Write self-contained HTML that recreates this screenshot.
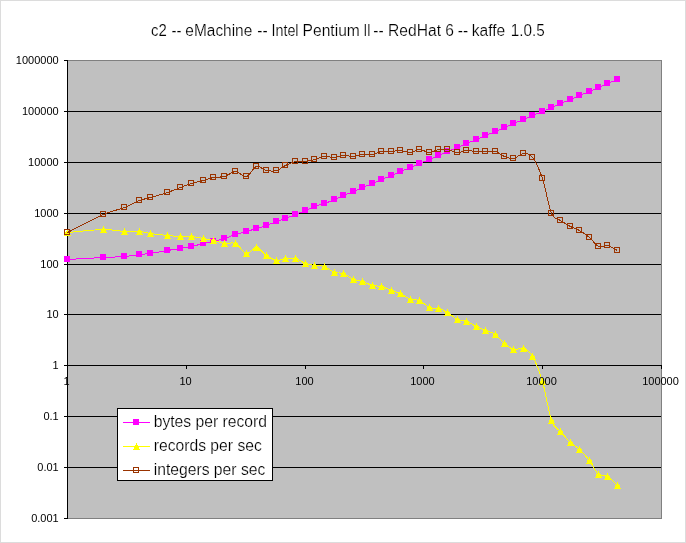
<!DOCTYPE html>
<html><head><meta charset="utf-8"><title>chart</title>
<style>
html,body{margin:0;padding:0;background:#fff;}
body{width:686px;height:543px;overflow:hidden;position:relative;font-family:"Liberation Sans",sans-serif;}
</style></head><body>
<svg width="686" height="543" viewBox="0 0 686 543" style="position:absolute;left:0;top:0;will-change:transform">
<rect x="0" y="0" width="686" height="543" fill="#ffffff"/>
<rect x="0.5" y="0.5" width="685" height="542" fill="none" stroke="#dcdcdc" stroke-width="1" shape-rendering="crispEdges"/>
<rect x="67" y="60" width="595" height="459" fill="#c0c0c0" shape-rendering="crispEdges"/>
<g shape-rendering="crispEdges" stroke-width="1" fill="none">
<path d="M67 60.5 H662" stroke="#808080"/>
<path d="M661.5 60 V519" stroke="#808080"/>
<path d="M67 518.5 H662" stroke="#808080"/>
<path d="M64 60.5 H68" stroke="#000"/>
<path d="M64 111.5 H661" stroke="#000"/>
<path d="M64 162.5 H661" stroke="#000"/>
<path d="M64 213.5 H661" stroke="#000"/>
<path d="M64 264.5 H661" stroke="#000"/>
<path d="M64 314.5 H661" stroke="#000"/>
<path d="M64 365.5 H661" stroke="#000"/>
<path d="M64 416.5 H661" stroke="#000"/>
<path d="M64 467.5 H661" stroke="#000"/>
<path d="M64 518.5 H68" stroke="#000"/>
<path d="M67.5 60 V519" stroke="#000"/>
<path d="M67.5 365 V369" stroke="#000"/>
<path d="M186.5 365 V369" stroke="#000"/>
<path d="M305.5 365 V369" stroke="#000"/>
<path d="M423.5 365 V369" stroke="#000"/>
<path d="M542.5 365 V369" stroke="#000"/>
<path d="M661.5 365 V369" stroke="#000"/>
</g>
<path d="M67.50 259.50 C73.50 259.17 94.00 258.00 103.50 257.50 C113.00 257.00 118.50 257.00 124.50 256.50 C130.50 256.00 135.17 255.00 139.50 254.50 C143.83 254.00 145.83 254.17 150.50 253.50 C155.17 252.83 162.50 251.33 167.50 250.50 C172.50 249.67 176.50 249.17 180.50 248.50 C184.50 247.83 187.67 247.33 191.50 246.50 C195.33 245.67 199.83 244.33 203.50 243.50 C207.17 242.67 210.00 242.33 213.50 241.50 C217.00 240.67 220.83 239.67 224.50 238.50 C228.17 237.33 231.83 235.67 235.50 234.50 C239.17 233.33 243.00 232.50 246.50 231.50 C250.00 230.50 253.17 229.50 256.50 228.50 C259.83 227.50 263.17 226.67 266.50 225.50 C269.83 224.33 273.33 222.67 276.50 221.50 C279.67 220.33 282.33 219.67 285.50 218.50 C288.67 217.33 292.17 215.83 295.50 214.50 C298.83 213.17 302.33 211.83 305.50 210.50 C308.67 209.17 311.33 207.67 314.50 206.50 C317.67 205.33 321.17 204.67 324.50 203.50 C327.83 202.33 331.33 200.83 334.50 199.50 C337.67 198.17 340.33 196.83 343.50 195.50 C346.67 194.17 350.33 192.83 353.50 191.50 C356.67 190.17 359.33 188.83 362.50 187.50 C365.67 186.17 369.33 184.83 372.50 183.50 C375.67 182.17 378.33 180.83 381.50 179.50 C384.67 178.17 388.33 176.83 391.50 175.50 C394.67 174.17 397.33 172.83 400.50 171.50 C403.67 170.17 407.33 168.83 410.50 167.50 C413.67 166.17 416.33 164.83 419.50 163.50 C422.67 162.17 426.33 160.83 429.50 159.50 C432.67 158.17 435.50 156.83 438.50 155.50 C441.50 154.17 444.33 152.83 447.50 151.50 C450.67 150.17 454.33 148.83 457.50 147.50 C460.67 146.17 463.33 144.83 466.50 143.50 C469.67 142.17 473.33 140.83 476.50 139.50 C479.67 138.17 482.33 136.83 485.50 135.50 C488.67 134.17 492.33 132.83 495.50 131.50 C498.67 130.17 501.50 128.83 504.50 127.50 C507.50 126.17 510.33 124.83 513.50 123.50 C516.67 122.17 520.33 120.83 523.50 119.50 C526.67 118.17 529.33 116.83 532.50 115.50 C535.67 114.17 539.33 112.83 542.50 111.50 C545.67 110.17 548.50 108.83 551.50 107.50 C554.50 106.17 557.33 104.83 560.50 103.50 C563.67 102.17 567.33 100.83 570.50 99.50 C573.67 98.17 576.33 96.83 579.50 95.50 C582.67 94.17 586.33 92.83 589.50 91.50 C592.67 90.17 595.50 88.83 598.50 87.50 C601.50 86.17 604.33 84.83 607.50 83.50 C610.67 82.17 615.83 80.17 617.50 79.50" fill="none" stroke="#ff00ff" stroke-width="1" shape-rendering="crispEdges"/>
<rect x="64" y="256" width="6" height="6" fill="#ff00ff" shape-rendering="crispEdges"/>
<rect x="100" y="254" width="6" height="6" fill="#ff00ff" shape-rendering="crispEdges"/>
<rect x="121" y="253" width="6" height="6" fill="#ff00ff" shape-rendering="crispEdges"/>
<rect x="136" y="251" width="6" height="6" fill="#ff00ff" shape-rendering="crispEdges"/>
<rect x="147" y="250" width="6" height="6" fill="#ff00ff" shape-rendering="crispEdges"/>
<rect x="164" y="247" width="6" height="6" fill="#ff00ff" shape-rendering="crispEdges"/>
<rect x="177" y="245" width="6" height="6" fill="#ff00ff" shape-rendering="crispEdges"/>
<rect x="188" y="243" width="6" height="6" fill="#ff00ff" shape-rendering="crispEdges"/>
<rect x="200" y="240" width="6" height="6" fill="#ff00ff" shape-rendering="crispEdges"/>
<rect x="210" y="238" width="6" height="6" fill="#ff00ff" shape-rendering="crispEdges"/>
<rect x="221" y="235" width="6" height="6" fill="#ff00ff" shape-rendering="crispEdges"/>
<rect x="232" y="231" width="6" height="6" fill="#ff00ff" shape-rendering="crispEdges"/>
<rect x="243" y="228" width="6" height="6" fill="#ff00ff" shape-rendering="crispEdges"/>
<rect x="253" y="225" width="6" height="6" fill="#ff00ff" shape-rendering="crispEdges"/>
<rect x="263" y="222" width="6" height="6" fill="#ff00ff" shape-rendering="crispEdges"/>
<rect x="273" y="218" width="6" height="6" fill="#ff00ff" shape-rendering="crispEdges"/>
<rect x="282" y="215" width="6" height="6" fill="#ff00ff" shape-rendering="crispEdges"/>
<rect x="292" y="211" width="6" height="6" fill="#ff00ff" shape-rendering="crispEdges"/>
<rect x="302" y="207" width="6" height="6" fill="#ff00ff" shape-rendering="crispEdges"/>
<rect x="311" y="203" width="6" height="6" fill="#ff00ff" shape-rendering="crispEdges"/>
<rect x="321" y="200" width="6" height="6" fill="#ff00ff" shape-rendering="crispEdges"/>
<rect x="331" y="196" width="6" height="6" fill="#ff00ff" shape-rendering="crispEdges"/>
<rect x="340" y="192" width="6" height="6" fill="#ff00ff" shape-rendering="crispEdges"/>
<rect x="350" y="188" width="6" height="6" fill="#ff00ff" shape-rendering="crispEdges"/>
<rect x="359" y="184" width="6" height="6" fill="#ff00ff" shape-rendering="crispEdges"/>
<rect x="369" y="180" width="6" height="6" fill="#ff00ff" shape-rendering="crispEdges"/>
<rect x="378" y="176" width="6" height="6" fill="#ff00ff" shape-rendering="crispEdges"/>
<rect x="388" y="172" width="6" height="6" fill="#ff00ff" shape-rendering="crispEdges"/>
<rect x="397" y="168" width="6" height="6" fill="#ff00ff" shape-rendering="crispEdges"/>
<rect x="407" y="164" width="6" height="6" fill="#ff00ff" shape-rendering="crispEdges"/>
<rect x="416" y="160" width="6" height="6" fill="#ff00ff" shape-rendering="crispEdges"/>
<rect x="426" y="156" width="6" height="6" fill="#ff00ff" shape-rendering="crispEdges"/>
<rect x="435" y="152" width="6" height="6" fill="#ff00ff" shape-rendering="crispEdges"/>
<rect x="444" y="148" width="6" height="6" fill="#ff00ff" shape-rendering="crispEdges"/>
<rect x="454" y="144" width="6" height="6" fill="#ff00ff" shape-rendering="crispEdges"/>
<rect x="463" y="140" width="6" height="6" fill="#ff00ff" shape-rendering="crispEdges"/>
<rect x="473" y="136" width="6" height="6" fill="#ff00ff" shape-rendering="crispEdges"/>
<rect x="482" y="132" width="6" height="6" fill="#ff00ff" shape-rendering="crispEdges"/>
<rect x="492" y="128" width="6" height="6" fill="#ff00ff" shape-rendering="crispEdges"/>
<rect x="501" y="124" width="6" height="6" fill="#ff00ff" shape-rendering="crispEdges"/>
<rect x="510" y="120" width="6" height="6" fill="#ff00ff" shape-rendering="crispEdges"/>
<rect x="520" y="116" width="6" height="6" fill="#ff00ff" shape-rendering="crispEdges"/>
<rect x="529" y="112" width="6" height="6" fill="#ff00ff" shape-rendering="crispEdges"/>
<rect x="539" y="108" width="6" height="6" fill="#ff00ff" shape-rendering="crispEdges"/>
<rect x="548" y="104" width="6" height="6" fill="#ff00ff" shape-rendering="crispEdges"/>
<rect x="557" y="100" width="6" height="6" fill="#ff00ff" shape-rendering="crispEdges"/>
<rect x="567" y="96" width="6" height="6" fill="#ff00ff" shape-rendering="crispEdges"/>
<rect x="576" y="92" width="6" height="6" fill="#ff00ff" shape-rendering="crispEdges"/>
<rect x="586" y="88" width="6" height="6" fill="#ff00ff" shape-rendering="crispEdges"/>
<rect x="595" y="84" width="6" height="6" fill="#ff00ff" shape-rendering="crispEdges"/>
<rect x="604" y="80" width="6" height="6" fill="#ff00ff" shape-rendering="crispEdges"/>
<rect x="614" y="76" width="6" height="6" fill="#ff00ff" shape-rendering="crispEdges"/>
<path d="M67.50 232.50 C73.50 232.00 94.00 229.67 103.50 229.50 C113.00 229.33 118.50 231.17 124.50 231.50 C130.50 231.83 135.17 231.17 139.50 231.50 C143.83 231.83 145.83 232.83 150.50 233.50 C155.17 234.17 162.50 235.00 167.50 235.50 C172.50 236.00 176.50 236.33 180.50 236.50 C184.50 236.67 187.67 236.17 191.50 236.50 C195.33 236.83 199.83 237.83 203.50 238.50 C207.17 239.17 210.00 239.67 213.50 240.50 C217.00 241.33 220.83 243.00 224.50 243.50 C228.17 244.00 231.83 241.83 235.50 243.50 C239.17 245.17 243.00 252.83 246.50 253.50 C250.00 254.17 253.17 247.17 256.50 247.50 C259.83 247.83 263.17 253.33 266.50 255.50 C269.83 257.67 273.33 260.00 276.50 260.50 C279.67 261.00 282.33 258.83 285.50 258.50 C288.67 258.17 292.17 257.67 295.50 258.50 C298.83 259.33 302.33 262.33 305.50 263.50 C308.67 264.67 311.33 265.00 314.50 265.50 C317.67 266.00 321.17 265.33 324.50 266.50 C327.83 267.67 331.33 271.33 334.50 272.50 C337.67 273.67 340.33 272.33 343.50 273.50 C346.67 274.67 350.33 278.17 353.50 279.50 C356.67 280.83 359.33 280.50 362.50 281.50 C365.67 282.50 369.33 284.67 372.50 285.50 C375.67 286.33 378.33 285.67 381.50 286.50 C384.67 287.33 388.33 289.33 391.50 290.50 C394.67 291.67 397.33 292.00 400.50 293.50 C403.67 295.00 407.33 298.33 410.50 299.50 C413.67 300.67 416.33 299.17 419.50 300.50 C422.67 301.83 426.33 306.17 429.50 307.50 C432.67 308.83 435.50 307.67 438.50 308.50 C441.50 309.33 444.33 310.67 447.50 312.50 C450.67 314.33 454.33 318.00 457.50 319.50 C460.67 321.00 463.33 320.33 466.50 321.50 C469.67 322.67 473.33 325.00 476.50 326.50 C479.67 328.00 482.33 329.17 485.50 330.50 C488.67 331.83 492.33 332.33 495.50 334.50 C498.67 336.67 501.50 341.00 504.50 343.50 C507.50 346.00 510.33 348.67 513.50 349.50 C516.67 350.33 520.33 347.33 523.50 348.50 C526.67 349.67 529.33 351.00 532.50 356.50 C535.67 362.00 539.33 370.83 542.50 381.50 C545.67 392.17 548.50 412.17 551.50 420.50 C554.50 428.83 557.33 427.83 560.50 431.50 C563.67 435.17 567.33 439.50 570.50 442.50 C573.67 445.50 576.33 446.50 579.50 449.50 C582.67 452.50 586.33 456.33 589.50 460.50 C592.67 464.67 595.50 471.83 598.50 474.50 C601.50 477.17 604.33 474.67 607.50 476.50 C610.67 478.33 615.83 484.00 617.50 485.50" fill="none" stroke="#ffff00" stroke-width="1" shape-rendering="crispEdges"/>
<path d="M67 229h1v2h1v1h1v3h1v1h-7v-1h1v-3h1v-1h1z" fill="#ffff00" shape-rendering="crispEdges"/>
<path d="M103 226h1v2h1v1h1v3h1v1h-7v-1h1v-3h1v-1h1z" fill="#ffff00" shape-rendering="crispEdges"/>
<path d="M124 228h1v2h1v1h1v3h1v1h-7v-1h1v-3h1v-1h1z" fill="#ffff00" shape-rendering="crispEdges"/>
<path d="M139 228h1v2h1v1h1v3h1v1h-7v-1h1v-3h1v-1h1z" fill="#ffff00" shape-rendering="crispEdges"/>
<path d="M150 230h1v2h1v1h1v3h1v1h-7v-1h1v-3h1v-1h1z" fill="#ffff00" shape-rendering="crispEdges"/>
<path d="M167 232h1v2h1v1h1v3h1v1h-7v-1h1v-3h1v-1h1z" fill="#ffff00" shape-rendering="crispEdges"/>
<path d="M180 233h1v2h1v1h1v3h1v1h-7v-1h1v-3h1v-1h1z" fill="#ffff00" shape-rendering="crispEdges"/>
<path d="M191 233h1v2h1v1h1v3h1v1h-7v-1h1v-3h1v-1h1z" fill="#ffff00" shape-rendering="crispEdges"/>
<path d="M203 235h1v2h1v1h1v3h1v1h-7v-1h1v-3h1v-1h1z" fill="#ffff00" shape-rendering="crispEdges"/>
<path d="M213 237h1v2h1v1h1v3h1v1h-7v-1h1v-3h1v-1h1z" fill="#ffff00" shape-rendering="crispEdges"/>
<path d="M224 240h1v2h1v1h1v3h1v1h-7v-1h1v-3h1v-1h1z" fill="#ffff00" shape-rendering="crispEdges"/>
<path d="M235 240h1v2h1v1h1v3h1v1h-7v-1h1v-3h1v-1h1z" fill="#ffff00" shape-rendering="crispEdges"/>
<path d="M246 250h1v2h1v1h1v3h1v1h-7v-1h1v-3h1v-1h1z" fill="#ffff00" shape-rendering="crispEdges"/>
<path d="M256 244h1v2h1v1h1v3h1v1h-7v-1h1v-3h1v-1h1z" fill="#ffff00" shape-rendering="crispEdges"/>
<path d="M266 252h1v2h1v1h1v3h1v1h-7v-1h1v-3h1v-1h1z" fill="#ffff00" shape-rendering="crispEdges"/>
<path d="M276 257h1v2h1v1h1v3h1v1h-7v-1h1v-3h1v-1h1z" fill="#ffff00" shape-rendering="crispEdges"/>
<path d="M285 255h1v2h1v1h1v3h1v1h-7v-1h1v-3h1v-1h1z" fill="#ffff00" shape-rendering="crispEdges"/>
<path d="M295 255h1v2h1v1h1v3h1v1h-7v-1h1v-3h1v-1h1z" fill="#ffff00" shape-rendering="crispEdges"/>
<path d="M305 260h1v2h1v1h1v3h1v1h-7v-1h1v-3h1v-1h1z" fill="#ffff00" shape-rendering="crispEdges"/>
<path d="M314 262h1v2h1v1h1v3h1v1h-7v-1h1v-3h1v-1h1z" fill="#ffff00" shape-rendering="crispEdges"/>
<path d="M324 263h1v2h1v1h1v3h1v1h-7v-1h1v-3h1v-1h1z" fill="#ffff00" shape-rendering="crispEdges"/>
<path d="M334 269h1v2h1v1h1v3h1v1h-7v-1h1v-3h1v-1h1z" fill="#ffff00" shape-rendering="crispEdges"/>
<path d="M343 270h1v2h1v1h1v3h1v1h-7v-1h1v-3h1v-1h1z" fill="#ffff00" shape-rendering="crispEdges"/>
<path d="M353 276h1v2h1v1h1v3h1v1h-7v-1h1v-3h1v-1h1z" fill="#ffff00" shape-rendering="crispEdges"/>
<path d="M362 278h1v2h1v1h1v3h1v1h-7v-1h1v-3h1v-1h1z" fill="#ffff00" shape-rendering="crispEdges"/>
<path d="M372 282h1v2h1v1h1v3h1v1h-7v-1h1v-3h1v-1h1z" fill="#ffff00" shape-rendering="crispEdges"/>
<path d="M381 283h1v2h1v1h1v3h1v1h-7v-1h1v-3h1v-1h1z" fill="#ffff00" shape-rendering="crispEdges"/>
<path d="M391 287h1v2h1v1h1v3h1v1h-7v-1h1v-3h1v-1h1z" fill="#ffff00" shape-rendering="crispEdges"/>
<path d="M400 290h1v2h1v1h1v3h1v1h-7v-1h1v-3h1v-1h1z" fill="#ffff00" shape-rendering="crispEdges"/>
<path d="M410 296h1v2h1v1h1v3h1v1h-7v-1h1v-3h1v-1h1z" fill="#ffff00" shape-rendering="crispEdges"/>
<path d="M419 297h1v2h1v1h1v3h1v1h-7v-1h1v-3h1v-1h1z" fill="#ffff00" shape-rendering="crispEdges"/>
<path d="M429 304h1v2h1v1h1v3h1v1h-7v-1h1v-3h1v-1h1z" fill="#ffff00" shape-rendering="crispEdges"/>
<path d="M438 305h1v2h1v1h1v3h1v1h-7v-1h1v-3h1v-1h1z" fill="#ffff00" shape-rendering="crispEdges"/>
<path d="M447 309h1v2h1v1h1v3h1v1h-7v-1h1v-3h1v-1h1z" fill="#ffff00" shape-rendering="crispEdges"/>
<path d="M457 316h1v2h1v1h1v3h1v1h-7v-1h1v-3h1v-1h1z" fill="#ffff00" shape-rendering="crispEdges"/>
<path d="M466 318h1v2h1v1h1v3h1v1h-7v-1h1v-3h1v-1h1z" fill="#ffff00" shape-rendering="crispEdges"/>
<path d="M476 323h1v2h1v1h1v3h1v1h-7v-1h1v-3h1v-1h1z" fill="#ffff00" shape-rendering="crispEdges"/>
<path d="M485 327h1v2h1v1h1v3h1v1h-7v-1h1v-3h1v-1h1z" fill="#ffff00" shape-rendering="crispEdges"/>
<path d="M495 331h1v2h1v1h1v3h1v1h-7v-1h1v-3h1v-1h1z" fill="#ffff00" shape-rendering="crispEdges"/>
<path d="M504 340h1v2h1v1h1v3h1v1h-7v-1h1v-3h1v-1h1z" fill="#ffff00" shape-rendering="crispEdges"/>
<path d="M513 346h1v2h1v1h1v3h1v1h-7v-1h1v-3h1v-1h1z" fill="#ffff00" shape-rendering="crispEdges"/>
<path d="M523 345h1v2h1v1h1v3h1v1h-7v-1h1v-3h1v-1h1z" fill="#ffff00" shape-rendering="crispEdges"/>
<path d="M532 353h1v2h1v1h1v3h1v1h-7v-1h1v-3h1v-1h1z" fill="#ffff00" shape-rendering="crispEdges"/>
<path d="M542 378h1v2h1v1h1v3h1v1h-7v-1h1v-3h1v-1h1z" fill="#ffff00" shape-rendering="crispEdges"/>
<path d="M551 417h1v2h1v1h1v3h1v1h-7v-1h1v-3h1v-1h1z" fill="#ffff00" shape-rendering="crispEdges"/>
<path d="M560 428h1v2h1v1h1v3h1v1h-7v-1h1v-3h1v-1h1z" fill="#ffff00" shape-rendering="crispEdges"/>
<path d="M570 439h1v2h1v1h1v3h1v1h-7v-1h1v-3h1v-1h1z" fill="#ffff00" shape-rendering="crispEdges"/>
<path d="M579 446h1v2h1v1h1v3h1v1h-7v-1h1v-3h1v-1h1z" fill="#ffff00" shape-rendering="crispEdges"/>
<path d="M589 457h1v2h1v1h1v3h1v1h-7v-1h1v-3h1v-1h1z" fill="#ffff00" shape-rendering="crispEdges"/>
<path d="M598 471h1v2h1v1h1v3h1v1h-7v-1h1v-3h1v-1h1z" fill="#ffff00" shape-rendering="crispEdges"/>
<path d="M607 473h1v2h1v1h1v3h1v1h-7v-1h1v-3h1v-1h1z" fill="#ffff00" shape-rendering="crispEdges"/>
<path d="M617 482h1v2h1v1h1v3h1v1h-7v-1h1v-3h1v-1h1z" fill="#ffff00" shape-rendering="crispEdges"/>
<path d="M67.50 232.50 C73.50 229.50 94.00 218.67 103.50 214.50 C113.00 210.33 118.50 209.83 124.50 207.50 C130.50 205.17 135.17 202.17 139.50 200.50 C143.83 198.83 145.83 198.83 150.50 197.50 C155.17 196.17 162.50 194.17 167.50 192.50 C172.50 190.83 176.50 189.00 180.50 187.50 C184.50 186.00 187.67 184.67 191.50 183.50 C195.33 182.33 199.83 181.50 203.50 180.50 C207.17 179.50 210.00 178.17 213.50 177.50 C217.00 176.83 220.83 177.50 224.50 176.50 C228.17 175.50 231.83 171.50 235.50 171.50 C239.17 171.50 243.00 177.33 246.50 176.50 C250.00 175.67 253.17 167.50 256.50 166.50 C259.83 165.50 263.17 169.83 266.50 170.50 C269.83 171.17 273.33 171.33 276.50 170.50 C279.67 169.67 282.33 167.00 285.50 165.50 C288.67 164.00 292.17 162.17 295.50 161.50 C298.83 160.83 302.33 161.83 305.50 161.50 C308.67 161.17 311.33 160.33 314.50 159.50 C317.67 158.67 321.17 156.83 324.50 156.50 C327.83 156.17 331.33 157.67 334.50 157.50 C337.67 157.33 340.33 155.67 343.50 155.50 C346.67 155.33 350.33 156.67 353.50 156.50 C356.67 156.33 359.33 154.83 362.50 154.50 C365.67 154.17 369.33 155.00 372.50 154.50 C375.67 154.00 378.33 152.00 381.50 151.50 C384.67 151.00 388.33 151.67 391.50 151.50 C394.67 151.33 397.33 150.33 400.50 150.50 C403.67 150.67 407.33 152.67 410.50 152.50 C413.67 152.33 416.33 149.50 419.50 149.50 C422.67 149.50 426.33 152.50 429.50 152.50 C432.67 152.50 435.50 150.00 438.50 149.50 C441.50 149.00 444.33 149.00 447.50 149.50 C450.67 150.00 454.33 152.33 457.50 152.50 C460.67 152.67 463.33 150.67 466.50 150.50 C469.67 150.33 473.33 151.33 476.50 151.50 C479.67 151.67 482.33 151.50 485.50 151.50 C488.67 151.50 492.33 150.67 495.50 151.50 C498.67 152.33 501.50 155.33 504.50 156.50 C507.50 157.67 510.33 159.00 513.50 158.50 C516.67 158.00 520.33 153.67 523.50 153.50 C526.67 153.33 529.33 153.33 532.50 157.50 C535.67 161.67 539.33 169.17 542.50 178.50 C545.67 187.83 548.50 206.50 551.50 213.50 C554.50 220.50 557.33 218.33 560.50 220.50 C563.67 222.67 567.33 224.83 570.50 226.50 C573.67 228.17 576.33 228.67 579.50 230.50 C582.67 232.33 586.33 234.83 589.50 237.50 C592.67 240.17 595.50 245.17 598.50 246.50 C601.50 247.83 604.33 244.83 607.50 245.50 C610.67 246.17 615.83 249.67 617.50 250.50" fill="none" stroke="#993300" stroke-width="1" shape-rendering="crispEdges"/>
<rect x="64.5" y="229.5" width="5" height="5" fill="none" stroke="#993300" stroke-width="1" shape-rendering="crispEdges"/>
<rect x="100.5" y="211.5" width="5" height="5" fill="none" stroke="#993300" stroke-width="1" shape-rendering="crispEdges"/>
<rect x="121.5" y="204.5" width="5" height="5" fill="none" stroke="#993300" stroke-width="1" shape-rendering="crispEdges"/>
<rect x="136.5" y="197.5" width="5" height="5" fill="none" stroke="#993300" stroke-width="1" shape-rendering="crispEdges"/>
<rect x="147.5" y="194.5" width="5" height="5" fill="none" stroke="#993300" stroke-width="1" shape-rendering="crispEdges"/>
<rect x="164.5" y="189.5" width="5" height="5" fill="none" stroke="#993300" stroke-width="1" shape-rendering="crispEdges"/>
<rect x="177.5" y="184.5" width="5" height="5" fill="none" stroke="#993300" stroke-width="1" shape-rendering="crispEdges"/>
<rect x="188.5" y="180.5" width="5" height="5" fill="none" stroke="#993300" stroke-width="1" shape-rendering="crispEdges"/>
<rect x="200.5" y="177.5" width="5" height="5" fill="none" stroke="#993300" stroke-width="1" shape-rendering="crispEdges"/>
<rect x="210.5" y="174.5" width="5" height="5" fill="none" stroke="#993300" stroke-width="1" shape-rendering="crispEdges"/>
<rect x="221.5" y="173.5" width="5" height="5" fill="none" stroke="#993300" stroke-width="1" shape-rendering="crispEdges"/>
<rect x="232.5" y="168.5" width="5" height="5" fill="none" stroke="#993300" stroke-width="1" shape-rendering="crispEdges"/>
<rect x="243.5" y="173.5" width="5" height="5" fill="none" stroke="#993300" stroke-width="1" shape-rendering="crispEdges"/>
<rect x="253.5" y="163.5" width="5" height="5" fill="none" stroke="#993300" stroke-width="1" shape-rendering="crispEdges"/>
<rect x="263.5" y="167.5" width="5" height="5" fill="none" stroke="#993300" stroke-width="1" shape-rendering="crispEdges"/>
<rect x="273.5" y="167.5" width="5" height="5" fill="none" stroke="#993300" stroke-width="1" shape-rendering="crispEdges"/>
<rect x="282.5" y="162.5" width="5" height="5" fill="none" stroke="#993300" stroke-width="1" shape-rendering="crispEdges"/>
<rect x="292.5" y="158.5" width="5" height="5" fill="none" stroke="#993300" stroke-width="1" shape-rendering="crispEdges"/>
<rect x="302.5" y="158.5" width="5" height="5" fill="none" stroke="#993300" stroke-width="1" shape-rendering="crispEdges"/>
<rect x="311.5" y="156.5" width="5" height="5" fill="none" stroke="#993300" stroke-width="1" shape-rendering="crispEdges"/>
<rect x="321.5" y="153.5" width="5" height="5" fill="none" stroke="#993300" stroke-width="1" shape-rendering="crispEdges"/>
<rect x="331.5" y="154.5" width="5" height="5" fill="none" stroke="#993300" stroke-width="1" shape-rendering="crispEdges"/>
<rect x="340.5" y="152.5" width="5" height="5" fill="none" stroke="#993300" stroke-width="1" shape-rendering="crispEdges"/>
<rect x="350.5" y="153.5" width="5" height="5" fill="none" stroke="#993300" stroke-width="1" shape-rendering="crispEdges"/>
<rect x="359.5" y="151.5" width="5" height="5" fill="none" stroke="#993300" stroke-width="1" shape-rendering="crispEdges"/>
<rect x="369.5" y="151.5" width="5" height="5" fill="none" stroke="#993300" stroke-width="1" shape-rendering="crispEdges"/>
<rect x="378.5" y="148.5" width="5" height="5" fill="none" stroke="#993300" stroke-width="1" shape-rendering="crispEdges"/>
<rect x="388.5" y="148.5" width="5" height="5" fill="none" stroke="#993300" stroke-width="1" shape-rendering="crispEdges"/>
<rect x="397.5" y="147.5" width="5" height="5" fill="none" stroke="#993300" stroke-width="1" shape-rendering="crispEdges"/>
<rect x="407.5" y="149.5" width="5" height="5" fill="none" stroke="#993300" stroke-width="1" shape-rendering="crispEdges"/>
<rect x="416.5" y="146.5" width="5" height="5" fill="none" stroke="#993300" stroke-width="1" shape-rendering="crispEdges"/>
<rect x="426.5" y="149.5" width="5" height="5" fill="none" stroke="#993300" stroke-width="1" shape-rendering="crispEdges"/>
<rect x="435.5" y="146.5" width="5" height="5" fill="none" stroke="#993300" stroke-width="1" shape-rendering="crispEdges"/>
<rect x="444.5" y="146.5" width="5" height="5" fill="none" stroke="#993300" stroke-width="1" shape-rendering="crispEdges"/>
<rect x="454.5" y="149.5" width="5" height="5" fill="none" stroke="#993300" stroke-width="1" shape-rendering="crispEdges"/>
<rect x="463.5" y="147.5" width="5" height="5" fill="none" stroke="#993300" stroke-width="1" shape-rendering="crispEdges"/>
<rect x="473.5" y="148.5" width="5" height="5" fill="none" stroke="#993300" stroke-width="1" shape-rendering="crispEdges"/>
<rect x="482.5" y="148.5" width="5" height="5" fill="none" stroke="#993300" stroke-width="1" shape-rendering="crispEdges"/>
<rect x="492.5" y="148.5" width="5" height="5" fill="none" stroke="#993300" stroke-width="1" shape-rendering="crispEdges"/>
<rect x="501.5" y="153.5" width="5" height="5" fill="none" stroke="#993300" stroke-width="1" shape-rendering="crispEdges"/>
<rect x="510.5" y="155.5" width="5" height="5" fill="none" stroke="#993300" stroke-width="1" shape-rendering="crispEdges"/>
<rect x="520.5" y="150.5" width="5" height="5" fill="none" stroke="#993300" stroke-width="1" shape-rendering="crispEdges"/>
<rect x="529.5" y="154.5" width="5" height="5" fill="none" stroke="#993300" stroke-width="1" shape-rendering="crispEdges"/>
<rect x="539.5" y="175.5" width="5" height="5" fill="none" stroke="#993300" stroke-width="1" shape-rendering="crispEdges"/>
<rect x="548.5" y="210.5" width="5" height="5" fill="none" stroke="#993300" stroke-width="1" shape-rendering="crispEdges"/>
<rect x="557.5" y="217.5" width="5" height="5" fill="none" stroke="#993300" stroke-width="1" shape-rendering="crispEdges"/>
<rect x="567.5" y="223.5" width="5" height="5" fill="none" stroke="#993300" stroke-width="1" shape-rendering="crispEdges"/>
<rect x="576.5" y="227.5" width="5" height="5" fill="none" stroke="#993300" stroke-width="1" shape-rendering="crispEdges"/>
<rect x="586.5" y="234.5" width="5" height="5" fill="none" stroke="#993300" stroke-width="1" shape-rendering="crispEdges"/>
<rect x="595.5" y="243.5" width="5" height="5" fill="none" stroke="#993300" stroke-width="1" shape-rendering="crispEdges"/>
<rect x="604.5" y="242.5" width="5" height="5" fill="none" stroke="#993300" stroke-width="1" shape-rendering="crispEdges"/>
<rect x="614.5" y="247.5" width="5" height="5" fill="none" stroke="#993300" stroke-width="1" shape-rendering="crispEdges"/>
<rect x="117.5" y="408.5" width="155" height="72" fill="#fff" stroke="#000" stroke-width="1" shape-rendering="crispEdges"/>
<path d="M123 422.5 H150" stroke="#ff00ff" stroke-width="1" shape-rendering="crispEdges"/>
<rect x="133" y="419" width="6" height="6" fill="#ff00ff" shape-rendering="crispEdges"/>
<path d="M123 446.5 H150" stroke="#ffff00" stroke-width="1" shape-rendering="crispEdges"/>
<path d="M136 443h1v2h1v1h1v3h1v1h-7v-1h1v-3h1v-1h1z" fill="#ffff00" shape-rendering="crispEdges"/>
<path d="M123 470.5 H150" stroke="#993300" stroke-width="1" shape-rendering="crispEdges"/>
<rect x="133.5" y="467.5" width="5" height="5" fill="none" stroke="#993300" stroke-width="1" shape-rendering="crispEdges"/>
<g font-family="'Liberation Sans', sans-serif" fill="#000">
<text transform="translate(150.90 35.7) scale(0.960 1)" font-size="15.6" stroke="#fff" stroke-width="0.2">c2</text>
<text transform="translate(171.50 35.7) scale(0.970 1)" font-size="15.6" stroke="#fff" stroke-width="0.2">--</text>
<text transform="translate(185.35 35.7) scale(0.990 1)" font-size="15.6" stroke="#fff" stroke-width="0.2">eMachine</text>
<text transform="translate(257.20 35.7) scale(1.000 1)" font-size="15.6" stroke="#fff" stroke-width="0.2">--</text>
<text transform="translate(271.45 35.7) scale(0.920 1)" font-size="15.6" stroke="#fff" stroke-width="0.2">Intel</text>
<text transform="translate(302.60 35.7) scale(1.000 1)" font-size="15.6" stroke="#fff" stroke-width="0.2">Pentium</text>
<text transform="translate(363.40 35.7) scale(0.850 1)" font-size="15.6" stroke="#fff" stroke-width="0.2">II</text>
<text transform="translate(373.20 35.7) scale(1.000 1)" font-size="15.6" stroke="#fff" stroke-width="0.2">--</text>
<text transform="translate(388.10 35.7) scale(1.000 1)" font-size="15.6" stroke="#fff" stroke-width="0.2">RedHat</text>
<text transform="translate(445.20 35.7) scale(1.000 1)" font-size="15.6" stroke="#fff" stroke-width="0.2">6</text>
<text transform="translate(457.80 35.7) scale(1.000 1)" font-size="15.6" stroke="#fff" stroke-width="0.2">--</text>
<text transform="translate(471.70 35.7) scale(1.000 1)" font-size="15.6" stroke="#fff" stroke-width="0.2">kaffe</text>
<text transform="translate(510.70 35.7) scale(0.980 1)" font-size="15.6" stroke="#fff" stroke-width="0.2">1.0.5</text>
<text x="58.7" y="64" font-size="11" text-anchor="end">1000000</text>
<text x="58.7" y="115" font-size="11" text-anchor="end">100000</text>
<text x="58.7" y="166" font-size="11" text-anchor="end">10000</text>
<text x="58.7" y="217" font-size="11" text-anchor="end">1000</text>
<text x="58.7" y="268" font-size="11" text-anchor="end">100</text>
<text x="58.7" y="318" font-size="11" text-anchor="end">10</text>
<text x="58.7" y="369" font-size="11" text-anchor="end">1</text>
<text x="58.7" y="420" font-size="11" text-anchor="end">0.1</text>
<text x="58.7" y="471" font-size="11" text-anchor="end">0.01</text>
<text x="58.7" y="522" font-size="11" text-anchor="end">0.001</text>
<text x="66.5" y="385" font-size="11" text-anchor="middle">1</text>
<text x="185.5" y="385" font-size="11" text-anchor="middle">10</text>
<text x="304.5" y="385" font-size="11" text-anchor="middle">100</text>
<text x="422.5" y="385" font-size="11" text-anchor="middle">1000</text>
<text x="541.5" y="385" font-size="11" text-anchor="middle">10000</text>
<text x="660.5" y="385" font-size="11" text-anchor="middle">100000</text>
<text x="153.7" y="426.9" font-size="15.7" stroke="#fff" stroke-width="0.2">bytes per record</text>
<text x="153.7" y="450.9" font-size="15.7" stroke="#fff" stroke-width="0.2">records per sec</text>
<text x="153.7" y="474.9" font-size="15.7" stroke="#fff" stroke-width="0.2">integers per sec</text>
</g>
</svg>
</body></html>
